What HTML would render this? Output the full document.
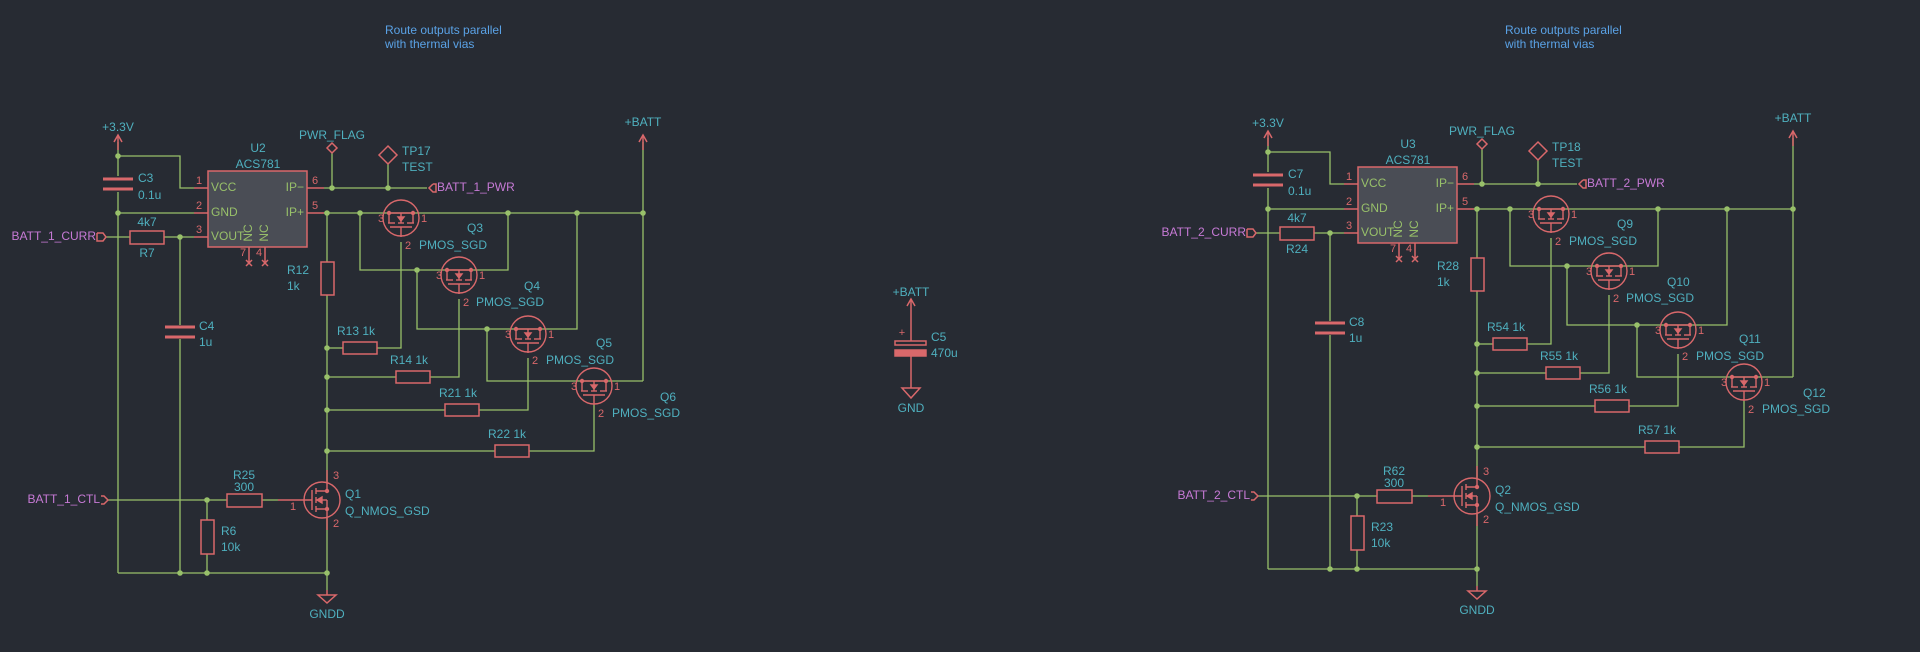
<!DOCTYPE html>
<html><head><meta charset="utf-8"><style>
html,body{margin:0;padding:0;background:#272b33;}
svg{display:block;}
text{font-family:"Liberation Sans",sans-serif;font-size:12px;dominant-baseline:middle;}
.t{fill:#4fb0bf;}
.m{fill:#c77ad6;}
.p{fill:#98c06a;}
.r{fill:#d9686b;font-size:11px;}
.n{fill:#5aa2e6;font-size:12px;}
</style></head><body>
<svg width="1920" height="652" viewBox="0 0 1920 652" xmlns="http://www.w3.org/2000/svg">
<defs>
<g id="pm" fill="none" stroke="#d9686b" stroke-width="1.4">
 <circle cx="0" cy="5" r="18"/>
 <line x1="-12" y1="0" x2="-12" y2="10"/><line x1="12" y1="0" x2="12" y2="10"/>
 <line x1="-14" y1="0" x2="14" y2="0"/>
 <line x1="-13" y1="10" x2="-6" y2="10"/><line x1="-3" y1="10" x2="3" y2="10"/><line x1="6" y1="10" x2="13" y2="10"/>
 <line x1="-11" y1="14" x2="11" y2="14"/>
 <line x1="0" y1="14" x2="0" y2="24"/>
 <line x1="0" y1="0" x2="0" y2="10"/>
 <polygon points="-3,4 3,4 0,8" fill="#d9686b"/>
 <circle cx="-12" cy="0" r="1.5" fill="#d9686b"/><circle cx="12" cy="0" r="1.5" fill="#d9686b"/>
</g>
<g id="nm" fill="none" stroke="#d9686b" stroke-width="1.4">
 <circle cx="0" cy="0" r="18"/>
 <line x1="-10" y1="-10" x2="-10" y2="10"/>
 <line x1="-6" y1="-12" x2="-6" y2="-6"/><line x1="-6" y1="-3" x2="-6" y2="3"/><line x1="-6" y1="6" x2="-6" y2="12"/>
 <polyline points="-6,-9 5,-9 5,-18"/><polyline points="-6,9 5,9 5,18"/>
 <line x1="-6" y1="0" x2="5" y2="0"/><line x1="5" y1="0" x2="5" y2="9"/>
 <polygon points="-5,0 0,-3 0,3" fill="#d9686b"/>
 <line x1="-44" y1="0" x2="-10" y2="0"/>
 <circle cx="5" cy="-9" r="1.5" fill="#d9686b"/><circle cx="5" cy="9" r="1.5" fill="#d9686b"/>
</g>
<g id="L">
 <g fill="none" stroke="#98c06a" stroke-width="1.3">
  <line x1="118" y1="142" x2="118" y2="176"/><line x1="118" y1="192" x2="118" y2="573"/>
  <polyline points="118,156 180,156 180,188 194,188"/>
  <line x1="118" y1="213" x2="194" y2="213"/>
  <line x1="106" y1="237" x2="130" y2="237"/><line x1="164" y1="237" x2="194" y2="237"/>
  <line x1="180" y1="237" x2="180" y2="325"/><line x1="180" y1="339" x2="180" y2="573"/>
  <line x1="324" y1="188" x2="427" y2="188"/>
  <line x1="332" y1="153" x2="332" y2="188"/><line x1="388" y1="164" x2="388" y2="188"/>
  <line x1="324" y1="213" x2="643" y2="213"/>
  <line x1="643" y1="142" x2="643" y2="381"/>
  <line x1="327" y1="213" x2="327" y2="262"/><line x1="327" y1="295" x2="327" y2="482"/>
  <polyline points="360,213 360,270 508,270 508,213"/>
  <polyline points="417,270 417,329 577,329 577,213"/>
  <polyline points="487,329 487,381 643,381"/>
  <polyline points="401,242 401,348 377,348"/><line x1="343" y1="348" x2="327" y2="348"/>
  <polyline points="459,299 459,377 430,377"/><line x1="396" y1="377" x2="327" y2="377"/>
  <polyline points="528,358 528,410 479,410"/><line x1="445" y1="410" x2="327" y2="410"/>
  <polyline points="594,405 594,451 529,451"/><line x1="495" y1="451" x2="327" y2="451"/>
  <line x1="107" y1="500" x2="227" y2="500"/><line x1="262" y1="500" x2="278" y2="500"/>
  <line x1="207" y1="500" x2="207" y2="520"/><line x1="207" y1="554" x2="207" y2="573"/>
  <line x1="327" y1="518" x2="327" y2="590"/>
  <line x1="118" y1="573" x2="327" y2="573"/>
 </g>
 <g fill="#98c06a">
  <circle cx="118" cy="156" r="2.8"/><circle cx="118" cy="213" r="2.8"/><circle cx="180" cy="237" r="2.8"/>
  <circle cx="332" cy="188" r="2.8"/><circle cx="388" cy="188" r="2.8"/>
  <circle cx="327" cy="213" r="2.8"/><circle cx="360" cy="213" r="2.8"/><circle cx="508" cy="213" r="2.8"/><circle cx="577" cy="213" r="2.8"/><circle cx="643" cy="213" r="2.8"/>
  <circle cx="417" cy="270" r="2.8"/><circle cx="487" cy="329" r="2.8"/>
  <circle cx="327" cy="348" r="2.8"/><circle cx="327" cy="377" r="2.8"/><circle cx="327" cy="410" r="2.8"/><circle cx="327" cy="451" r="2.8"/>
  <circle cx="207" cy="500" r="2.8"/><circle cx="180" cy="573" r="2.8"/><circle cx="207" cy="573" r="2.8"/><circle cx="327" cy="573" r="2.8"/>
 </g>
 <g fill="none" stroke="#d9686b" stroke-width="1.5">
  <polyline points="114,142 118,135 122,142"/><line x1="118" y1="135" x2="118" y2="150"/>
  <polyline points="639,142 643,135 647,142"/><line x1="643" y1="135" x2="643" y2="150"/>
  <line x1="103" y1="179" x2="133" y2="179" stroke-width="3"/><line x1="103" y1="189" x2="133" y2="189" stroke-width="3"/>
  <line x1="165" y1="327" x2="195" y2="327" stroke-width="3"/><line x1="165" y1="337" x2="195" y2="337" stroke-width="3"/>
  <rect x="208" y="171" width="99" height="76" fill="#4a4d55"/>
  <line x1="194" y1="188" x2="208" y2="188"/><line x1="194" y1="213" x2="208" y2="213"/><line x1="194" y1="237" x2="208" y2="237"/>
  <line x1="307" y1="188" x2="324" y2="188"/><line x1="307" y1="213" x2="324" y2="213"/>
  <line x1="249" y1="247" x2="249" y2="262"/><line x1="265" y1="247" x2="265" y2="262"/>
  <path d="M246,260 l6,6 M252,260 l-6,6 M262,260 l6,6 M268,260 l-6,6"/>
  <polygon points="332,143 337,148 332,153 327,148"/>
  <polygon points="388,146 397,155 388,164 379,155"/>
  <polyline points="433,184 429,188 433,192 436,192 436,184 433,184"/>
  <polyline points="97,233 103,233 106,237 103,241 97,241 97,233"/>
  <polyline points="101,496 104,496 108,500 104,504 101,504"/>
  <g fill="#272b33">
  <rect x="130" y="231" width="34" height="13"/>
  <rect x="321" y="262" width="13" height="33"/>
  <rect x="343" y="342" width="34" height="12"/><rect x="396" y="371" width="34" height="12"/>
  <rect x="445" y="404" width="34" height="12"/><rect x="495" y="445" width="34" height="12"/>
  <rect x="227" y="494" width="35" height="13"/><rect x="201" y="520" width="13" height="34"/>
  </g>
  <line x1="327" y1="470" x2="327" y2="482"/><line x1="327" y1="518" x2="327" y2="530"/>
  <line x1="327" y1="590" x2="327" y2="595"/><polygon points="318,595 336,595 327,603"/>
 </g>
 <use href="#pm" x="401" y="213"/><use href="#pm" x="459" y="270"/><use href="#pm" x="528" y="329"/><use href="#pm" x="594" y="381"/>
 <use href="#nm" x="322" y="500"/>
</g>
</defs>
<rect width="1920" height="652" fill="#272b33"/>
<use href="#L"/>
<use href="#L" transform="translate(1150,-4)"/>
<g fill="none" stroke="#d9686b" stroke-width="1.5">
 <polyline points="907,306 911,299 915,306"/><line x1="911" y1="299" x2="911" y2="341"/>
 <rect x="895" y="341" width="31" height="4"/><rect x="895" y="350" width="31" height="6" fill="#d9686b"/>
 <line x1="911" y1="356" x2="911" y2="388"/><polygon points="902,388 920,388 911,398"/>
</g>
<text class="t" x="911" y="293" text-anchor="middle">+BATT</text>
<text class="r" x="902" y="333" text-anchor="middle">+</text>
<text class="t" x="931" y="338">C5</text><text class="t" x="931" y="354">470u</text>
<text class="t" x="911" y="409" text-anchor="middle">GND</text>
<text class="n" x="385" y="31">Route outputs parallel</text><text class="n" x="385" y="45">with thermal vias</text>
<text class="n" x="1505" y="31">Route outputs parallel</text><text class="n" x="1505" y="45">with thermal vias</text>

<g>
<text class="t" x="118" y="128" text-anchor="middle">+3.3V</text>
<text class="t" x="138" y="179">C3</text><text class="t" x="138" y="196">0.1u</text>
<text class="t" x="258" y="149" text-anchor="middle">U2</text><text class="t" x="258" y="165" text-anchor="middle">ACS781</text>
<text class="r" x="199" y="181" text-anchor="middle">1</text><text class="r" x="199" y="206" text-anchor="middle">2</text><text class="r" x="199" y="230" text-anchor="middle">3</text>
<text class="r" x="315" y="181" text-anchor="middle">6</text><text class="r" x="315" y="206" text-anchor="middle">5</text>
<text class="p" x="211" y="188" font-size="11">VCC</text><text class="p" x="211" y="213" font-size="11">GND</text><text class="p" x="211" y="237" font-size="11">VOUT</text>
<text class="p" x="304" y="188" text-anchor="end" font-size="11">IP−</text><text class="p" x="304" y="213" text-anchor="end" font-size="11">IP+</text>
<text class="p" font-size="9" transform="translate(249,233) rotate(-90)" text-anchor="middle">NC</text>
<text class="p" font-size="9" transform="translate(265,233) rotate(-90)" text-anchor="middle">NC</text>
<text class="r" x="243" y="253" text-anchor="middle">7</text><text class="r" x="259" y="253" text-anchor="middle">4</text>
<text class="t" x="147" y="223" text-anchor="middle">4k7</text><text class="t" x="147" y="254" text-anchor="middle">R7</text>
<text class="m" x="96" y="237" text-anchor="end">BATT_1_CURR</text>
<text class="t" x="332" y="136" text-anchor="middle">PWR_FLAG</text>
<text class="t" x="402" y="152">TP17</text><text class="t" x="402" y="168">TEST</text>
<text class="m" x="437" y="188">BATT_1_PWR</text>
<text class="t" x="643" y="123" text-anchor="middle">+BATT</text>
<text class="t" x="199" y="327">C4</text><text class="t" x="199" y="343">1u</text>
<text class="t" x="287" y="271">R12</text><text class="t" x="287" y="287">1k</text>
<text class="r" x="378" y="219">3</text><text class="r" x="421" y="219">1</text><text class="r" x="405" y="246">2</text>
<text class="t" x="467" y="229">Q3</text><text class="t" x="419" y="246">PMOS_SGD</text>
<text class="r" x="436" y="276">3</text><text class="r" x="479" y="276">1</text><text class="r" x="463" y="303">2</text>
<text class="t" x="524" y="287">Q4</text><text class="t" x="476" y="303">PMOS_SGD</text>
<text class="r" x="505" y="335">3</text><text class="r" x="548" y="335">1</text><text class="r" x="532" y="361">2</text>
<text class="t" x="596" y="344">Q5</text><text class="t" x="546" y="361">PMOS_SGD</text>
<text class="r" x="571" y="387">3</text><text class="r" x="614" y="387">1</text><text class="r" x="598" y="414">2</text>
<text class="t" x="660" y="398">Q6</text><text class="t" x="612" y="414">PMOS_SGD</text>
<text class="t" x="337" y="332">R13  1k</text><text class="t" x="390" y="361">R14  1k</text>
<text class="t" x="439" y="394">R21  1k</text><text class="t" x="488" y="435">R22  1k</text>
<text class="t" x="244" y="476" text-anchor="middle">R25</text><text class="t" x="244" y="488" text-anchor="middle">300</text>
<text class="t" x="221" y="532">R6</text><text class="t" x="221" y="548">10k</text>
<text class="t" x="345" y="495">Q1</text><text class="t" x="345" y="512">Q_NMOS_GSD</text>
<text class="r" x="293" y="507" text-anchor="middle">1</text><text class="r" x="333" y="476">3</text><text class="r" x="333" y="524">2</text>
<text class="m" x="100" y="500" text-anchor="end">BATT_1_CTL</text>
<text class="t" x="327" y="615" text-anchor="middle">GNDD</text>
</g>
<g transform="translate(1150,-4)">
<text class="t" x="118" y="128" text-anchor="middle">+3.3V</text>
<text class="t" x="138" y="179">C7</text><text class="t" x="138" y="196">0.1u</text>
<text class="t" x="258" y="149" text-anchor="middle">U3</text><text class="t" x="258" y="165" text-anchor="middle">ACS781</text>
<text class="r" x="199" y="181" text-anchor="middle">1</text><text class="r" x="199" y="206" text-anchor="middle">2</text><text class="r" x="199" y="230" text-anchor="middle">3</text>
<text class="r" x="315" y="181" text-anchor="middle">6</text><text class="r" x="315" y="206" text-anchor="middle">5</text>
<text class="p" x="211" y="188" font-size="11">VCC</text><text class="p" x="211" y="213" font-size="11">GND</text><text class="p" x="211" y="237" font-size="11">VOUT</text>
<text class="p" x="304" y="188" text-anchor="end" font-size="11">IP−</text><text class="p" x="304" y="213" text-anchor="end" font-size="11">IP+</text>
<text class="p" font-size="9" transform="translate(249,233) rotate(-90)" text-anchor="middle">NC</text>
<text class="p" font-size="9" transform="translate(265,233) rotate(-90)" text-anchor="middle">NC</text>
<text class="r" x="243" y="253" text-anchor="middle">7</text><text class="r" x="259" y="253" text-anchor="middle">4</text>
<text class="t" x="147" y="223" text-anchor="middle">4k7</text><text class="t" x="147" y="254" text-anchor="middle">R24</text>
<text class="m" x="96" y="237" text-anchor="end">BATT_2_CURR</text>
<text class="t" x="332" y="136" text-anchor="middle">PWR_FLAG</text>
<text class="t" x="402" y="152">TP18</text><text class="t" x="402" y="168">TEST</text>
<text class="m" x="437" y="188">BATT_2_PWR</text>
<text class="t" x="643" y="123" text-anchor="middle">+BATT</text>
<text class="t" x="199" y="327">C8</text><text class="t" x="199" y="343">1u</text>
<text class="t" x="287" y="271">R28</text><text class="t" x="287" y="287">1k</text>
<text class="r" x="378" y="219">3</text><text class="r" x="421" y="219">1</text><text class="r" x="405" y="246">2</text>
<text class="t" x="467" y="229">Q9</text><text class="t" x="419" y="246">PMOS_SGD</text>
<text class="r" x="436" y="276">3</text><text class="r" x="479" y="276">1</text><text class="r" x="463" y="303">2</text>
<text class="t" x="517" y="287">Q10</text><text class="t" x="476" y="303">PMOS_SGD</text>
<text class="r" x="505" y="335">3</text><text class="r" x="548" y="335">1</text><text class="r" x="532" y="361">2</text>
<text class="t" x="589" y="344">Q11</text><text class="t" x="546" y="361">PMOS_SGD</text>
<text class="r" x="571" y="387">3</text><text class="r" x="614" y="387">1</text><text class="r" x="598" y="414">2</text>
<text class="t" x="653" y="398">Q12</text><text class="t" x="612" y="414">PMOS_SGD</text>
<text class="t" x="337" y="332">R54  1k</text><text class="t" x="390" y="361">R55  1k</text>
<text class="t" x="439" y="394">R56  1k</text><text class="t" x="488" y="435">R57  1k</text>
<text class="t" x="244" y="476" text-anchor="middle">R62</text><text class="t" x="244" y="488" text-anchor="middle">300</text>
<text class="t" x="221" y="532">R23</text><text class="t" x="221" y="548">10k</text>
<text class="t" x="345" y="495">Q2</text><text class="t" x="345" y="512">Q_NMOS_GSD</text>
<text class="r" x="293" y="507" text-anchor="middle">1</text><text class="r" x="333" y="476">3</text><text class="r" x="333" y="524">2</text>
<text class="m" x="100" y="500" text-anchor="end">BATT_2_CTL</text>
<text class="t" x="327" y="615" text-anchor="middle">GNDD</text>
</g>
</svg>
</body></html>
